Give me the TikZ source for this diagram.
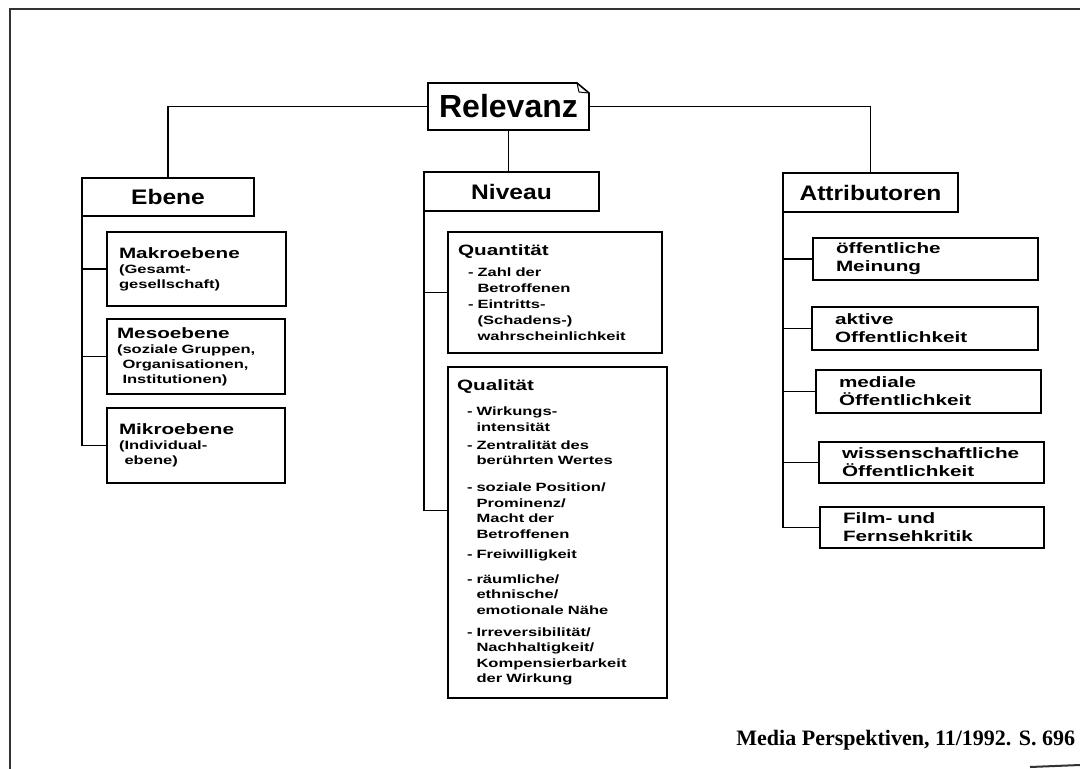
\documentclass[tikz,border=0pt]{standalone}
\usepackage{fontspec}
\setmainfont{Liberation Sans}
\newfontfamily\widefont[FakeStretch=1.38]{Liberation Sans}
\newfontfamily\hdrfont[FakeStretch=1.17]{Liberation Sans}
\newfontfamily\srcfont{Liberation Serif}
\usetikzlibrary{calc}
\hyphenpenalty=10000
\exhyphenpenalty=10000
\newcommand\itm{\hspace*{10pt}-\ }
\newcommand\cnt{\hspace*{10pt}\hphantom{-\ }}
\newcommand\ttl[1]{{\fontsize{15}{18}\selectfont #1}}
\begin{document}
\begin{tikzpicture}[x=1pt,y=-1pt,
  every node/.style={inner sep=0pt, outer sep=0pt},
  boxline/.style={draw, line width=1.6pt},
  hdr/.style={boxline, anchor=north west, font=\hdrfont\bfseries\fontsize{21}{25}\selectfont},
  sub/.style={boxline, anchor=north west, align=left, font=\widefont\bfseries\fontsize{12}{15}\selectfont},
  att/.style={boxline, anchor=north west, align=left, inner xsep=23pt, font=\widefont\bfseries\fontsize{15}{18}\selectfont},
  conn/.style={line width=1.5pt},
]
\useasboundingbox (0,0) rectangle (1080,769);
% scan frame
\draw[line width=2.5pt, black!80] (9,9) -- (1080,9);
\draw[line width=2.5pt, black!80] (10,9) -- (10,769);
\draw[line width=2pt, black!80] (1030,767) -- (1080,765);

% root
\node[anchor=north west, minimum width=161pt, minimum height=47pt,
      font=\bfseries\fontsize{32}{36}\selectfont] (rel) at (428,83) {Relevanz};
\draw[line width=1.6pt] (rel.north west) -- ([xshift=-12pt]rel.north east)
  -- ([yshift=-10pt]rel.north east) -- (rel.south east) -- (rel.south west) -- cycle;
\draw[line width=1pt] ([xshift=-12pt]rel.north east) -- ([xshift=-10pt,yshift=-9pt]rel.north east)
  -- ([yshift=-10pt]rel.north east);

% headers
\node[hdr, minimum width=172pt, minimum height=38pt] (ebene) at (82,178) {Ebene};
\node[hdr, minimum width=175pt, minimum height=39pt] (niv) at (424,172) {Niveau};
\node[hdr, minimum width=175pt, minimum height=39pt] (attr) at (783,173) {Attributoren};

% Ebene children
\node[sub, inner xsep=12pt, text width=155pt, minimum height=74pt] (makro) at (107,232)
  {\ttl{Makroebene}\\ (Gesamt-\\ gesellschaft)};
\node[sub, inner xsep=10pt, text width=158pt, minimum height=75pt] (meso) at (107,319)
  {\ttl{Mesoebene}\\ (soziale Gruppen,\\ \hphantom{(}Organisationen,\\ \hphantom{(}Institutionen)};
\node[sub, inner xsep=12pt, text width=154pt, minimum height=75pt] (mikro) at (107,408)
  {\ttl{Mikroebene}\\ (Individual-\\ \hphantom{(}ebene)};

% Niveau children
\node[sub, inner xsep=10pt, text width=194pt, minimum height=121pt,
      font=\widefont\bfseries\fontsize{12}{16}\selectfont] (quant) at (448,232)
  {\ttl{Quantität}\\[5pt]
   \itm Zahl der\\
   \cnt Betroffenen\\
   \itm Eintritts-\\
   \cnt (Schadens-)\\
   \cnt wahrscheinlichkeit};
\node[sub, inner xsep=9pt, text width=201pt, minimum height=331pt,
      font=\widefont\bfseries\fontsize{12}{15.5}\selectfont] (qual) at (448,367)
  {\ttl{Qualität}\\[9.5pt]
   \itm Wirkungs-\\
   \cnt intensität\\[2.5pt]
   \itm Zentralität des\\
   \cnt berührten Wertes\\[11.5pt]
   \itm soziale Position/\\
   \cnt Prominenz/\\
   \cnt Macht der\\
   \cnt Betroffenen\\[4.5pt]
   \itm Freiwilligkeit\\[9.5pt]
   \itm räumliche/\\
   \cnt ethnische/\\
   \cnt emotionale Nähe\\[6.5pt]
   \itm Irreversibilität/\\
   \cnt Nachhaltigkeit/\\
   \cnt Kompensierbarkeit\\
   \cnt der Wirkung};

% Attributoren children
\node[att, text width=179pt, minimum height=42pt] (oeff) at (813,238) {öffentliche\\Meinung};
\node[att, text width=180pt, minimum height=43pt] (aktiv) at (812,307) {aktive\\Offentlichkeit};
\node[att, text width=179pt, minimum height=43pt] (medial) at (816,370) {mediale\\Öffentlichkeit};
\node[att, text width=179pt, minimum height=41pt] (wiss) at (819,442) {wissenschaftliche\\Öffentlichkeit};
\node[att, text width=178pt, minimum height=41pt] (film) at (820,507) {Film- und\\Fernsehkritik};

% source
\node[anchor=base east, font=\srcfont\bfseries\fontsize{22}{26}\selectfont] (src) at (1075,745)
  {Media Perspektiven, 11/1992. S. 696};

% connectors root
\draw[conn] (rel.west) -| (ebene.north);
\draw[conn] (rel.east) -| (attr.north);
\draw[conn] (rel.south) -- (rel.south |- niv.north);

% Ebene
\draw[conn] (ebene.south west) |- (mikro.west);
\draw[conn] (makro.west) -- (makro.west -| ebene.west);
\draw[conn] (meso.west) -- (meso.west -| ebene.west);

% Niveau
\draw[conn] (niv.south west) |- ([yshift=22pt]qual.west);
\draw[conn] (quant.west) -- (quant.west -| niv.west);

% Attributoren
\draw[conn] (attr.south west) |- (film.west);
\draw[conn] (oeff.west) -- (oeff.west -| attr.west);
\draw[conn] (aktiv.west) -- (aktiv.west -| attr.west);
\draw[conn] (medial.west) -- (medial.west -| attr.west);
\draw[conn] (wiss.west) -- (wiss.west -| attr.west);
\end{tikzpicture}
\end{document}
